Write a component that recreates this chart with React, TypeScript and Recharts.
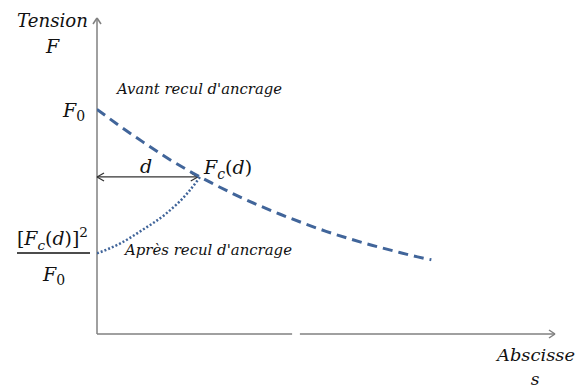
import React from 'react';
import { LineChart, Line, XAxis, YAxis, ReferenceLine } from 'recharts';

// Abscisse s (arbitrary units) and tension F (arbitrary units)
const avantS = [0, 0.5, 1, 1.5, 2, 2.5, 3, 3.5, 4, 4.5, 5, 5.5, 6, 6.5, 7, 7.3];
const avantF = [7.11, 6.58, 6.08, 5.6, 5.17, 4.78, 4.42, 4.09, 3.79, 3.51, 3.25, 3.02, 2.81, 2.62, 2.44, 2.35];
const apresS = [0, 0.5, 1, 1.5, 2, 2.25];
const apresF = [2.55, 2.86, 3.3, 3.8, 4.5, 4.97];
const dValue = 2.2;
const fcdValue = 4.97;
const sMax = 10;
const fMax = 10;
const axisGap = [4.26, 4.43];

const avantData = avantS.map((s, i) => ({ s, F: avantF[i] }));
const apresData = apresS.map((s, i) => ({ s, F: apresF[i] }));

const W = 581;
const H = 388;
const margin = { top: 18, right: 26, bottom: 54, left: 97 };
const pxX = (W - margin.left - margin.right) / sMax;
const pxY = (H - margin.top - margin.bottom) / fMax;

const AXIS = '#808080';
const BLUE = '#41659a';
const FONT = "'DejaVu Serif', 'Liberation Serif', serif";

type Seg = [{ x: number; y: number }, { x: number; y: number }];

function arrowHead(tx: number, ty: number, dirX: number, dirY: number, len: number, half: number): Seg[] {
  const bx = -dirX * len;
  const by = -dirY * len;
  const nx = -dirY * half;
  const ny = dirX * half;
  const p1 = { x: tx + (bx + nx) / pxX, y: ty - (by + ny) / pxY };
  const p2 = { x: tx + (bx - nx) / pxX, y: ty - (by - ny) / pxY };
  return [
    [{ x: tx, y: ty }, p1],
    [{ x: tx, y: ty }, p2],
  ];
}

const axisSegments: Seg[] = [
  [{ x: 0, y: 0 }, { x: 0, y: fMax }],
  [{ x: 0, y: 0 }, { x: axisGap[0], y: 0 }],
  [{ x: axisGap[1], y: 0 }, { x: sMax, y: 0 }],
  ...arrowHead(0, fMax, 0, -1, 6, 4),
  ...arrowHead(sMax, 0, 1, 0, 6, 4),
];

const dSegments: Seg[] = [
  [{ x: 0, y: fcdValue }, { x: dValue, y: fcdValue }],
  ...arrowHead(0, fcdValue, -1, 0, 7, 4),
  ...arrowHead(dValue, fcdValue, 1, 0, 7, 4),
];

function T(props: any) {
  return <text fontFamily={FONT} fontStyle="italic" fill="#111" {...props} />;
}

export default function App() {
  return (
    <div style={{ position: 'absolute', left: 0, top: 0, width: W, height: H, background: '#fff' }}>
      <LineChart width={W} height={H} margin={margin}>
        <XAxis type="number" dataKey="s" domain={[0, sMax]} hide allowDataOverflow />
        <YAxis type="number" dataKey="F" domain={[0, fMax]} hide allowDataOverflow />
        {axisSegments.map((seg, i) => (
          <ReferenceLine key={'a' + i} segment={seg} stroke={AXIS} strokeWidth={1.5} ifOverflow="visible" />
        ))}
        {dSegments.map((seg, i) => (
          <ReferenceLine key={'d' + i} segment={seg} stroke="#333" strokeWidth={1.2} ifOverflow="visible" />
        ))}
        <Line
          data={avantData}
          dataKey="F"
          type="monotone"
          stroke={BLUE}
          strokeWidth={3}
          strokeDasharray="10 6"
          dot={false}
          isAnimationActive={false}
        />
        <Line
          data={apresData}
          dataKey="F"
          type="monotone"
          stroke={BLUE}
          strokeWidth={2.5}
          strokeDasharray="2 2"
          dot={false}
          isAnimationActive={false}
        />
      </LineChart>
      <svg width={W} height={H} style={{ position: 'absolute', left: 0, top: 0, pointerEvents: 'none' }}>
        <T x={17} y={27} fontSize={18} textLength={71} lengthAdjust="spacingAndGlyphs">Tension</T>
        <T x={46} y={53} fontSize={19}>F</T>
        <T x={63} y={117} fontSize={19}>
          F<tspan fontStyle="normal" fontSize={14} dy={4}>0</tspan>
        </T>
        <T x={117} y={94} fontSize={14} textLength={165} lengthAdjust="spacingAndGlyphs">Avant recul d'ancrage</T>
        <T x={140} y={173} fontSize={19}>d</T>
        <T x={204} y={174} fontSize={19}>
          F<tspan fontSize={14} dy={5}>c</tspan><tspan fontStyle="normal" dy={-5}>(</tspan><tspan>d</tspan><tspan fontStyle="normal">)</tspan>
        </T>
        <T x={17} y={245} fontSize={18} textLength={71} lengthAdjust="spacingAndGlyphs">
          <tspan fontStyle="normal">[</tspan>F<tspan fontSize={13} dy={5}>c</tspan><tspan fontStyle="normal" dy={-5}>(</tspan>d<tspan fontStyle="normal">)]</tspan><tspan fontStyle="normal" fontSize={13} dy={-8}>2</tspan>
        </T>
        <line x1={17} x2={90} y1={253} y2={253} stroke="#111" strokeWidth={1.3} />
        <T x={43} y={281} fontSize={19}>
          F<tspan fontStyle="normal" fontSize={14} dy={4}>0</tspan>
        </T>
        <T x={125} y={255} fontSize={14} textLength={167} lengthAdjust="spacingAndGlyphs">Après recul d'ancrage</T>
        <T x={497} y={361} fontSize={17} textLength={78} lengthAdjust="spacingAndGlyphs">Abscisse</T>
        <T x={535} y={385} fontSize={17} textAnchor="middle">s</T>
      </svg>
    </div>
  );
}
